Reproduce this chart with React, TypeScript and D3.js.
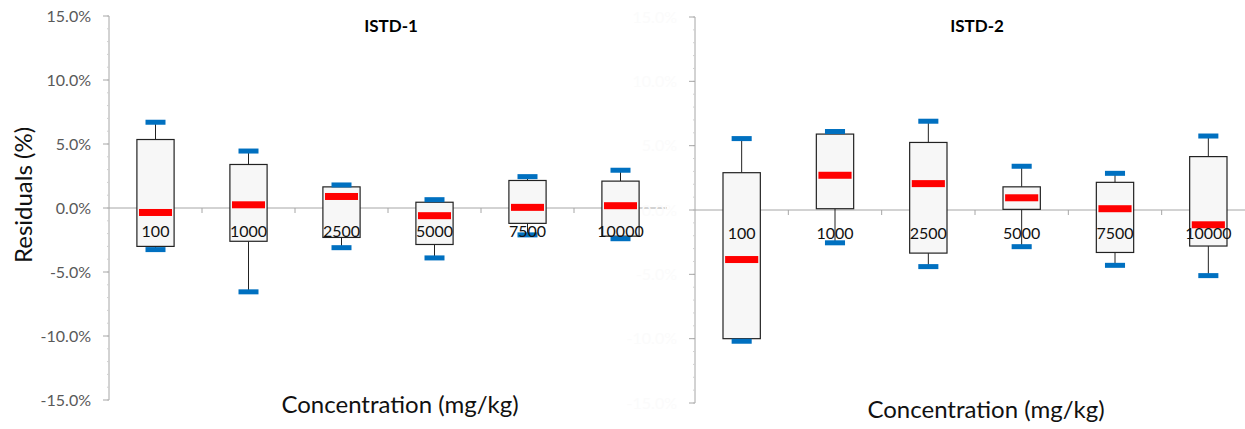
import React from 'react';
import * as d3 from 'd3';

// concentration levels (mg/kg)
const categories = ['100', '1000', '2500', '5000', '7500', '10000'];

// box stats per level, residuals in %
const istd1Min = [-3.25, -6.55, -3.1, -3.9, -2.1, -2.4];
const istd1Q1 = [-3.0, -2.6, -2.3, -2.85, -1.2, -2.2];
const istd1Median = [-0.35, 0.25, 0.9, -0.6, 0.05, 0.18];
const istd1Q3 = [5.35, 3.4, 1.65, 0.45, 2.15, 2.1];
const istd1Max = [6.7, 4.45, 1.8, 0.65, 2.45, 2.95];

const istd2Min = [-10.2, -2.55, -4.4, -2.85, -4.3, -5.1];
const istd2Q1 = [-10.0, 0.1, -3.35, 0.05, -3.3, -2.8];
const istd2Median = [-3.85, 2.7, 2.05, 0.95, 0.1, -1.15];
const istd2Q3 = [2.9, 5.9, 5.25, 1.8, 2.15, 4.15];
const istd2Max = [5.55, 6.1, 6.9, 3.4, 2.85, 5.75];

const yTicks = [15, 10, 5, 0, -5, -10, -15];

const FONT = 'Lato, "Open Sans", sans-serif';

type PanelProps = {
  title: string;
  x0: number;
  x1: number;
  yTop: number;
  yBottom: number;
  mins: number[];
  q1s: number[];
  medians: number[];
  q3s: number[];
  maxs: number[];
  tickColor: string;
  xTitleY: number;
  showYTitle: boolean;
};

const Panel = (p: PanelProps) => {
  const x = d3.scaleBand<string>().domain(categories).range([p.x0, p.x1]);
  const y = d3.scaleLinear().domain([-15, 15]).range([p.yBottom, p.yTop]);
  const minor = d3.range(-15, 16, 1);
  const boxW = x.bandwidth() * 0.4;
  const medW = x.bandwidth() * 0.355;
  const capW = x.bandwidth() * 0.215;

  return (
    <g>
      {/* y axis */}
      <line x1={p.x0} x2={p.x0} y1={y(15)} y2={y(-15)} stroke="#a6a6a6" strokeWidth={1} />
      {minor.map(v => (
        <line key={'m' + v} x1={p.x0 - 2} x2={p.x0} y1={y(v)} y2={y(v)} stroke="#d0d0d0" />
      ))}
      {yTicks.map(v => (
        <g key={v}>
          <line x1={p.x0 - 6} x2={p.x0} y1={y(v)} y2={y(v)} stroke="#a6a6a6" />
          <text x={p.x0 - 18} y={y(v)} dy="0.35em" textAnchor="end" fontSize={16}
            fontFamily={FONT} fill={p.tickColor}>
            {v.toFixed(1) + '%'}
          </text>
        </g>
      ))}

      {/* zero line with category ticks */}
      <line x1={p.x0} x2={p.x1} y1={y(0)} y2={y(0)} stroke="#a6a6a6" />
      {categories.slice(1).map(c => (
        <line key={c} x1={x(c)!} x2={x(c)!} y1={y(0)} y2={y(0) + 5} stroke="#a6a6a6" />
      ))}

      {/* boxes */}
      {categories.map((c, i) => {
        const cx = x(c)! + x.bandwidth() / 2;
        return (
          <g key={c}>
            <line x1={cx} x2={cx} y1={y(p.maxs[i])} y2={y(p.q3s[i])} stroke="#222" />
            <line x1={cx} x2={cx} y1={y(p.q1s[i])} y2={y(p.mins[i])} stroke="#222" />
            <rect x={cx - boxW / 2} y={y(p.q3s[i])} width={boxW}
              height={y(p.q1s[i]) - y(p.q3s[i])} fill="#f7f7f7" stroke="#222" strokeWidth={1.2} />
            <rect x={cx - capW / 2} y={y(p.maxs[i]) - 2.5} width={capW} height={5} fill="#0070c0" />
            <rect x={cx - capW / 2} y={y(p.mins[i]) - 2.5} width={capW} height={5} fill="#0070c0" />
            <rect x={cx - medW / 2} y={y(p.medians[i]) - 3.5} width={medW} height={7} fill="#ff0000" />
            <text x={cx} y={y(0) + 29} textAnchor="middle" fontSize={16} fontFamily={FONT} fill="#111">
              {c}
            </text>
          </g>
        );
      })}

      <text x={p.x0 + 282} y={32} textAnchor="middle" fontSize={17} fontWeight="bold"
        fontFamily={FONT} fill="#000">
        {p.title}
      </text>
      <text x={p.x0 + 291} y={p.xTitleY} textAnchor="middle" fontSize={24}
        fontFamily={FONT} fill="#111">
        Concentration (mg/kg)
      </text>
      {p.showYTitle && (
        <text transform="translate(32,195) rotate(-90)" textAnchor="middle"
          fontSize={24} fontFamily={FONT} fill="#111">
          Residuals (%)
        </text>
      )}
    </g>
  );
};

export default function App() {
  return (
    <svg width={1245} height={429} viewBox="0 0 1245 429"
      style={{ position: 'absolute', left: 0, top: 0, background: '#fff' }}>
      <rect width={1245} height={429} fill="#fff" />
      <Panel title="ISTD-1" x0={109} x1={667} yTop={16} yBottom={400}
        mins={istd1Min} q1s={istd1Q1} medians={istd1Median} q3s={istd1Q3} maxs={istd1Max}
        tickColor="#595959" xTitleY={413} showYTitle={true} />
      <Panel title="ISTD-2" x0={695} x1={1255} yTop={17} yBottom={403}
        mins={istd2Min} q1s={istd2Q1} medians={istd2Median} q3s={istd2Q3} maxs={istd2Max}
        tickColor="#fbfbfb" xTitleY={418} showYTitle={false} />
    </svg>
  );
}
